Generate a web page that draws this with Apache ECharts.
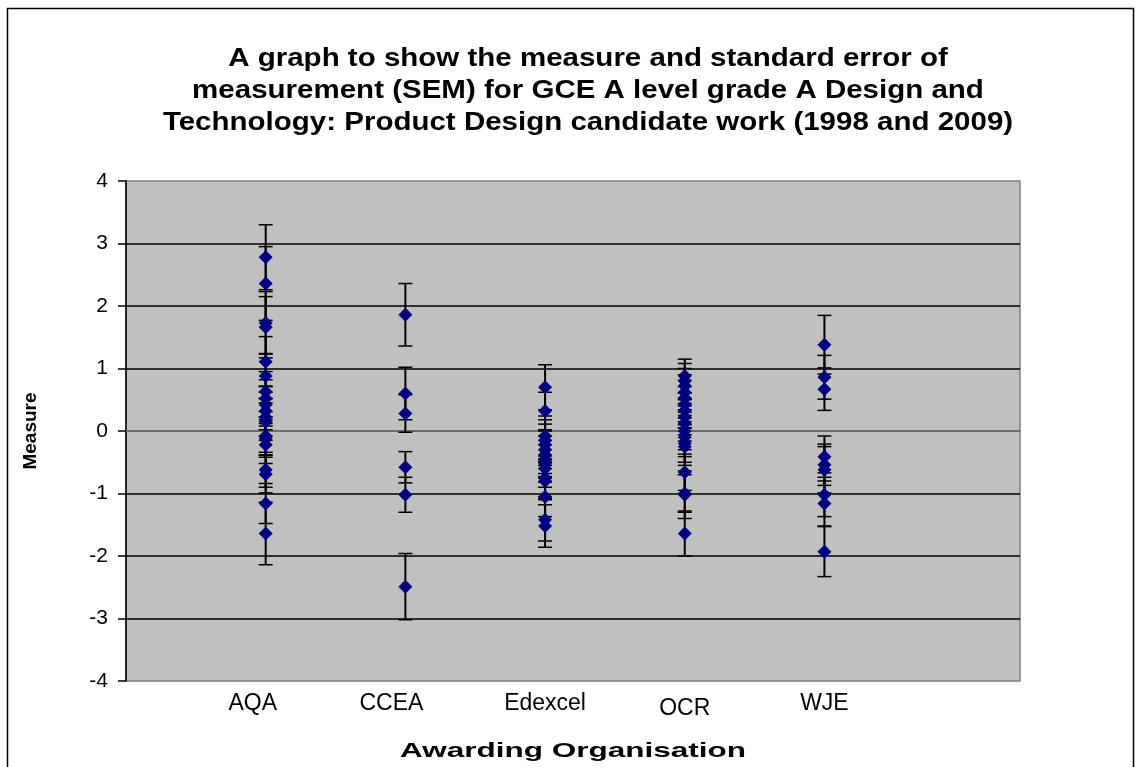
<!DOCTYPE html>
<html>
<head>
<meta charset="utf-8">
<title>Measure and SEM</title>
<script src="https://cdn.jsdelivr.net/npm/echarts@6/dist/echarts.min.js"></script>
<style>
  html, body { margin: 0; padding: 0; background: #fff; }
  #chart { width: 1142px; height: 767px; }
</style>
</head>
<body>
<div id="chart"></div>
<script>
// awarding organisations, placed at x = 1..5
const categories = ['AQA', 'CCEA', 'Edexcel', 'OCR', 'WJE']

// measure and SEM per organisation
const aqaMeasure = [2.78, 2.36, 1.73, 1.66, 1.11, 0.88, 0.63, 0.52, 0.42, 0.32, 0.22, 0.15, -0.08, -0.12, -0.22, -0.62, -0.69, -1.16, -1.64]
const aqaSem = [0.52, 0.59, 0.5, 0.49, 0.4, 0.36, 0.32, 0.3, 0.3, 0.3, 0.3, 0.3, 0.3, 0.3, 0.3, 0.28, 0.3, 0.32, 0.5]

const cceaMeasure = [1.86, 0.6, 0.28, -0.58, -1.02, -2.49]
const cceaSem = [0.5, 0.42, 0.3, 0.25, 0.28, 0.53]

const edexcelMeasure = [0.7, 0.32, -0.08, -0.15, -0.22, -0.3, -0.38, -0.45, -0.52, -0.6, -0.75, -0.8, -1.05, -1.42, -1.52]
const edexcelSem = [0.36, 0.3, 0.32, 0.33, 0.33, 0.3, 0.3, 0.3, 0.3, 0.3, 0.3, 0.3, 0.32, 0.34, 0.34]

const ocrMeasure = [0.88, 0.8, 0.72, 0.62, 0.53, 0.43, 0.33, 0.22, 0.12, 0.0, -0.1, -0.2, -0.25, -0.66, -1.0, -1.02, -1.64]
const ocrSem = [0.27, 0.28, 0.28, 0.28, 0.28, 0.28, 0.28, 0.28, 0.28, 0.3, 0.31, 0.3, 0.3, 0.29, 0.3, 0.38, 0.36]

const wjeMeasure = [1.38, 0.86, 0.67, -0.41, -0.54, -0.62, -1.02, -1.16, -1.93]
const wjeSem = [0.47, 0.35, 0.34, 0.33, 0.33, 0.37, 0.35, 0.36, 0.4]

const yTicks = [-4, -3, -2, -1, 0, 1, 2, 3, 4]

const measures = [aqaMeasure, cceaMeasure, edexcelMeasure, ocrMeasure, wjeMeasure]
const sems = [aqaSem, cceaSem, edexcelSem, ocrSem, wjeSem]

const points = []
const bars = []
measures.forEach(function (list, i) {
  list.forEach(function (m, j) {
    points.push([i + 1, m])
    bars.push([i + 1, m - sems[i][j], m + sems[i][j]])
  })
})

const font = '"Liberation Sans", Arial, sans-serif'
const titleText = 'A graph to show the measure and standard error of\nmeasurement (SEM) for GCE A level grade A Design and\nTechnology: Product Design candidate work (1998 and 2009)'

// the original text boxes are not all centred on their column
const labelRich = {
  AQA: { fontFamily: font, fontSize: 23, color: '#000', padding: [0, 26, 0, 0] },
  CCEA: { fontFamily: font, fontSize: 23, color: '#000', padding: [0, 28, 0, 0] },
  Edexcel: { fontFamily: font, fontSize: 23, color: '#000' },
  OCR: { fontFamily: font, fontSize: 23, color: '#000', padding: [5, 0, 0, 0] },
  WJE: { fontFamily: font, fontSize: 23, color: '#000' }
}

const myChart = echarts.init(document.getElementById('chart'))

myChart.setOption({
  animation: false,
  textStyle: { fontFamily: font },
  graphic: [
    {
      type: 'rect',
      shape: { x: 7.5, y: 8.5, width: 1126, height: 800 },
      style: { fill: 'none', stroke: '#000', lineWidth: 1.5 },
      silent: true
    },
    {
      type: 'text',
      x: 588,
      y: 43,
      scaleX: 1.18,
      silent: true,
      style: {
        text: titleText,
        font: 'bold 25px "Liberation Sans", Arial, sans-serif',
        textAlign: 'center',
        textVerticalAlign: 'top',
        lineHeight: 32,
        fill: '#000'
      }
    },
    {
      type: 'text',
      x: 573,
      y: 741,
      scaleX: 1.5,
      silent: true,
      style: {
        text: 'Awarding Organisation',
        font: 'bold 21px "Liberation Sans", Arial, sans-serif',
        textAlign: 'center',
        textVerticalAlign: 'top',
        fill: '#000'
      }
    }
  ],
  grid: {
    left: 126,
    top: 181,
    right: 122,
    bottom: 86,
    show: true,
    backgroundColor: '#c0c0c0',
    borderColor: '#808080',
    borderWidth: 1.5
  },
  xAxis: {
    type: 'value',
    min: 0,
    max: 6.4,
    interval: 1,
    axisLine: { show: true, lineStyle: { color: '#808080', width: 1.5 } },
    axisTick: { show: false },
    splitLine: { show: false },
    axisLabel: {
      fontFamily: font,
      fontSize: 23,
      color: '#000',
      margin: 11,
      showMaxLabel: false,
      rich: labelRich,
      formatter: function (v) {
        const name = categories[v - 1]
        return name ? '{' + name + '|' + name + '}' : ''
      }
    }
  },
  yAxis: {
    type: 'value',
    min: yTicks[0],
    max: yTicks[yTicks.length - 1],
    interval: 1,
    name: 'Measure',
    nameLocation: 'middle',
    nameGap: 86,
    nameRotate: 90,
    nameTextStyle: { fontFamily: font, fontSize: 19, fontWeight: 'bold', color: '#000' },
    axisLine: { show: true, lineStyle: { color: '#000', width: 1.5 } },
    axisTick: { show: true, length: 8, lineStyle: { color: '#000', width: 1.5 } },
    splitLine: {
      show: true,
      lineStyle: { color: '#000', width: 1.5 },
      showMinLine: false,
      showMaxLine: false
    },
    axisLabel: { fontFamily: font, fontSize: 21, color: '#000', margin: 18 }
  },
  series: [
    {
      type: 'custom',
      name: 'SEM',
      z: 2,
      data: bars,
      encode: { x: 0, y: [1, 2] },
      renderItem: function (params, api) {
        const x = api.value(0)
        const lo = api.coord([x, api.value(1)])
        const hi = api.coord([x, api.value(2)])
        const half = 7
        const style = { stroke: '#000', lineWidth: 1.5 }
        return {
          type: 'group',
          children: [
            { type: 'line', shape: { x1: lo[0], y1: lo[1], x2: hi[0], y2: hi[1] }, style: { stroke: '#000', lineWidth: 2 } },
            { type: 'line', shape: { x1: lo[0] - half, y1: lo[1], x2: lo[0] + half, y2: lo[1] }, style: style },
            { type: 'line', shape: { x1: hi[0] - half, y1: hi[1], x2: hi[0] + half, y2: hi[1] }, style: style }
          ]
        }
      }
    },
    {
      type: 'scatter',
      name: 'Measure',
      z: 3,
      symbol: 'diamond',
      symbolSize: 14,
      itemStyle: { color: '#000080', opacity: 1 },
      data: points
    }
  ]
})

window.addEventListener('resize', () => {
  myChart.resize()
})
</script>
</body>
</html>
